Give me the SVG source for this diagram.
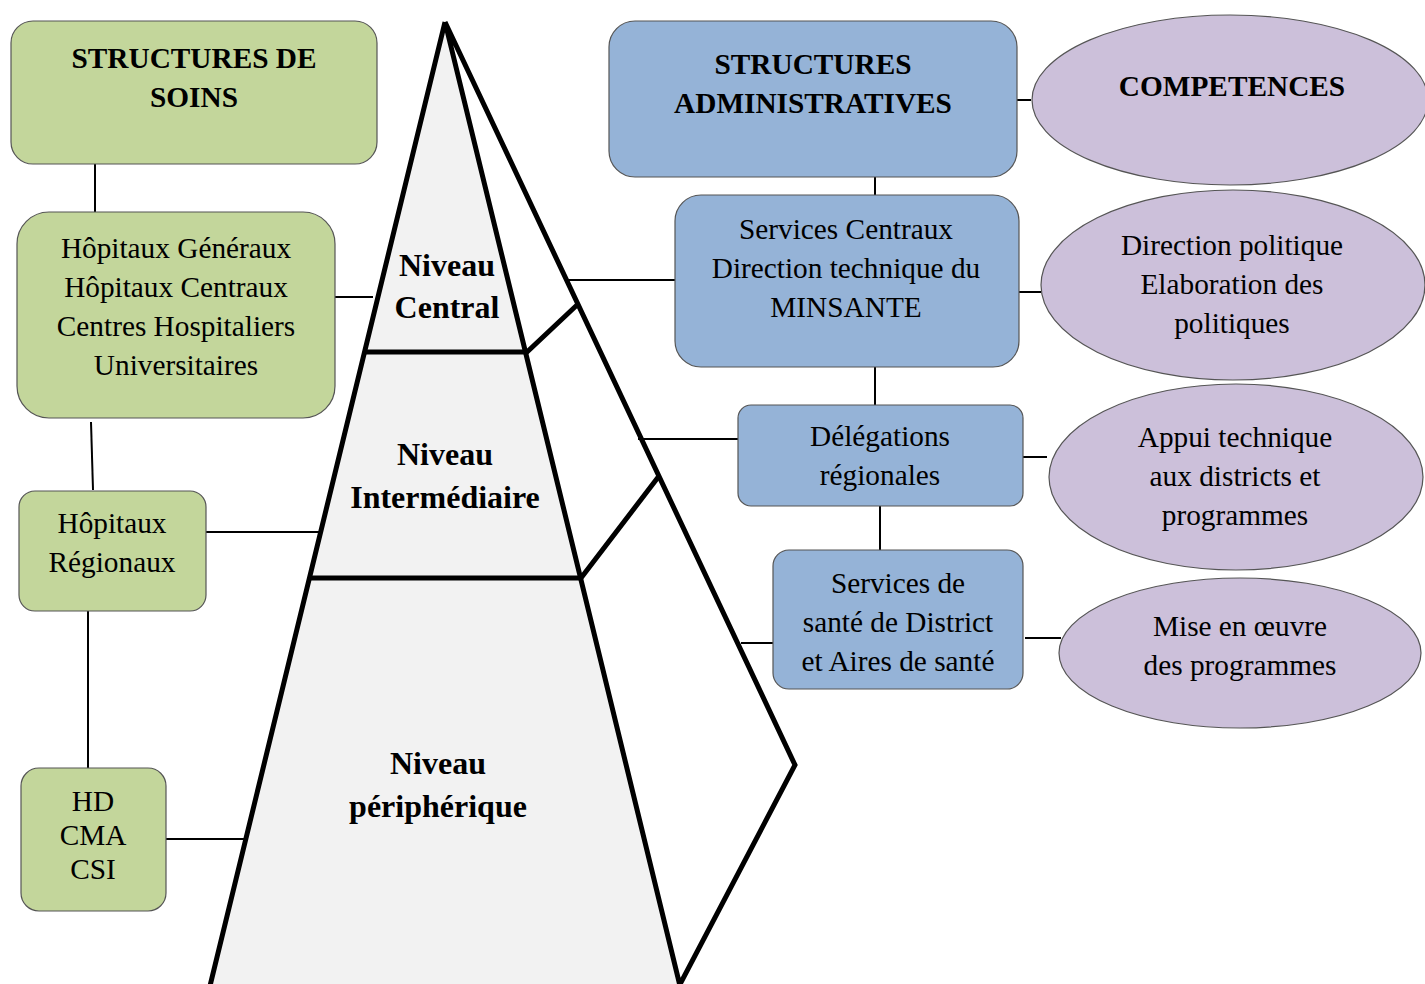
<svg xmlns="http://www.w3.org/2000/svg" width="1425" height="984" viewBox="0 0 1425 984">
<style>
.g{fill:#C3D69B;stroke:#555;stroke-width:1.2}
.b{fill:#95B3D7;stroke:#555;stroke-width:1.2}
.p{fill:#CCC0DA;stroke:#555;stroke-width:1.2}
.t{font-family:"Liberation Serif","Times New Roman",serif;font-size:29.3px;fill:#000;text-anchor:middle}
.tb{font-family:"Liberation Serif","Times New Roman",serif;font-size:29.3px;font-weight:bold;fill:#000;text-anchor:middle}
.pl{font-family:"Liberation Serif","Times New Roman",serif;font-size:32px;font-weight:bold;fill:#000;text-anchor:middle}
.c{stroke:#000;stroke-width:2;fill:none}
.k{stroke:#000;stroke-width:5;fill:none;stroke-linejoin:miter}
</style>
<rect width="1425" height="984" fill="#fff"/>
<g id="pyramid">
<polygon points="445,22 211,990 679,990" fill="#F2F2F2"/>
<path class="k" d="M445,22 L209,990 M445,22 L681,990 M445,22 L795,765 L677,990"/>
<path class="k" d="M364,352 L527,352 L577,305 M309,578 L581,578 L659,476"/>
<text class="pl" x="447" y="276">Niveau</text>
<text class="pl" x="447" y="318">Central</text>
<text class="pl" x="445" y="465">Niveau</text>
<text class="pl" x="445" y="508">Intermédiaire</text>
<text class="pl" x="438" y="774">Niveau</text>
<text class="pl" x="438" y="817">périphérique</text>
</g>
<g id="connectors">
<line class="c" x1="95" y1="164" x2="95" y2="212"/>
<line class="c" x1="91" y1="422" x2="93" y2="490"/>
<line class="c" x1="88" y1="611" x2="88" y2="768"/>
<line class="c" x1="335" y1="297" x2="373" y2="297"/>
<line class="c" x1="206" y1="532" x2="320" y2="532"/>
<line class="c" x1="166" y1="839" x2="245" y2="839"/>
<line class="c" x1="1017" y1="100" x2="1031" y2="100"/>
<line class="c" x1="875" y1="177" x2="875" y2="195"/>
<line class="c" x1="568" y1="280" x2="675" y2="280"/>
<line class="c" x1="1019" y1="292" x2="1041" y2="292"/>
<line class="c" x1="875" y1="367" x2="875" y2="405"/>
<line class="c" x1="638" y1="439" x2="738" y2="439"/>
<line class="c" x1="1023" y1="457" x2="1047" y2="457"/>
<line class="c" x1="880" y1="506" x2="880" y2="550"/>
<line class="c" x1="741" y1="643" x2="773" y2="643"/>
<line class="c" x1="1025" y1="638" x2="1061" y2="638"/>
</g>
<g id="structures-soins">
<rect class="g" x="11" y="21" width="366" height="143" rx="22"/>
<text class="tb" x="194" y="68">STRUCTURES DE</text>
<text class="tb" x="194" y="107">SOINS</text>
</g>
<g id="hopitaux-generaux">
<rect class="g" x="17" y="212" width="318" height="206" rx="32"/>
<text class="t" x="176" y="258">Hôpitaux Généraux</text>
<text class="t" x="176" y="297">Hôpitaux Centraux</text>
<text class="t" x="176" y="336">Centres Hospitaliers</text>
<text class="t" x="176" y="375">Universitaires</text>
</g>
<g id="hopitaux-regionaux">
<rect class="g" x="19" y="491" width="187" height="120" rx="16"/>
<text class="t" x="112" y="533">Hôpitaux</text>
<text class="t" x="112" y="572">Régionaux</text>
</g>
<g id="hd-cma-csi">
<rect class="g" x="21" y="768" width="145" height="143" rx="18"/>
<text class="t" x="93" y="811">HD</text>
<text class="t" x="93" y="845">CMA</text>
<text class="t" x="93" y="879">CSI</text>
</g>
<g id="structures-admin">
<rect class="b" x="609" y="21" width="408" height="156" rx="26"/>
<text class="tb" x="813" y="74">STRUCTURES</text>
<text class="tb" x="813" y="113">ADMINISTRATIVES</text>
</g>
<g id="services-centraux">
<rect class="b" x="675" y="195" width="344" height="172" rx="26"/>
<text class="t" x="846" y="239">Services Centraux</text>
<text class="t" x="846" y="278">Direction technique du</text>
<text class="t" x="846" y="317">MINSANTE</text>
</g>
<g id="delegations">
<rect class="b" x="738" y="405" width="285" height="101" rx="13"/>
<text class="t" x="880" y="446">Délégations</text>
<text class="t" x="880" y="485">régionales</text>
</g>
<g id="services-district">
<rect class="b" x="773" y="550" width="250" height="139" rx="16"/>
<text class="t" x="898" y="593">Services de</text>
<text class="t" x="898" y="632">santé de District</text>
<text class="t" x="898" y="671">et Aires de santé</text>
</g>
<g id="competences">
<ellipse class="p" cx="1230" cy="100" rx="198" ry="85"/>
<text class="tb" x="1232" y="96">COMPETENCES</text>
</g>
<g id="direction-politique">
<ellipse class="p" cx="1233" cy="285" rx="192" ry="95"/>
<text class="t" x="1232" y="255">Direction politique</text>
<text class="t" x="1232" y="294">Elaboration des</text>
<text class="t" x="1232" y="333">politiques</text>
</g>
<g id="appui-technique">
<ellipse class="p" cx="1236" cy="477" rx="187" ry="93"/>
<text class="t" x="1235" y="447">Appui technique</text>
<text class="t" x="1235" y="486">aux districts et</text>
<text class="t" x="1235" y="525">programmes</text>
</g>
<g id="mise-en-oeuvre">
<ellipse class="p" cx="1240" cy="653" rx="181" ry="75"/>
<text class="t" x="1240" y="636">Mise en œuvre</text>
<text class="t" x="1240" y="675">des programmes</text>
</g>
</svg>
